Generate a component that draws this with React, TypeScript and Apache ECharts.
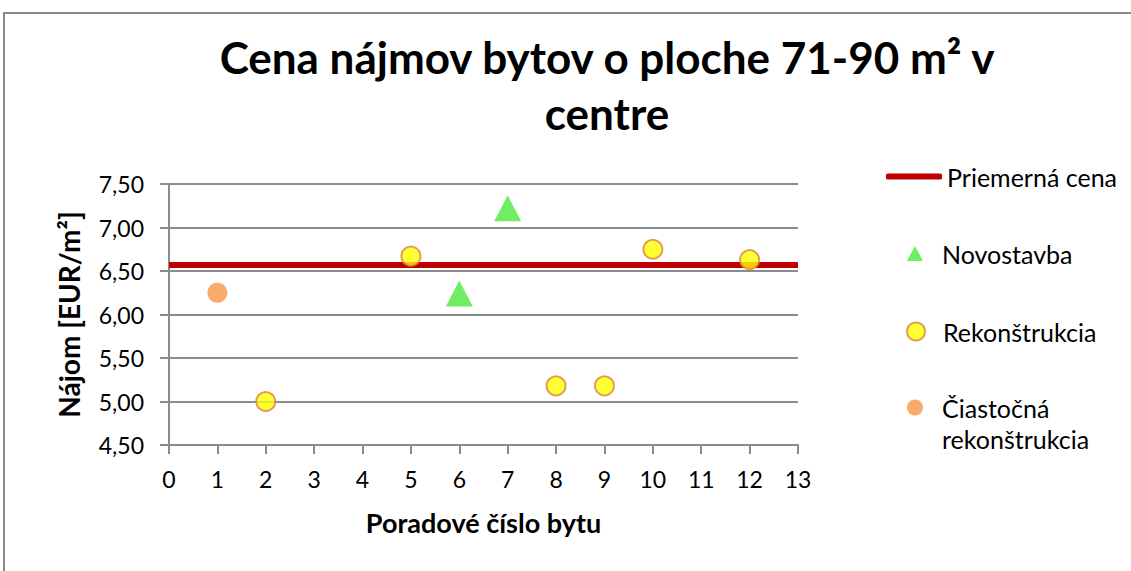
import React, { useEffect, useRef } from "react";
import * as echarts from "echarts";

const titleText = "Cena nájmov bytov o ploche 71-90 m² v\ncentre";
const xName = "Poradové číslo bytu";
const yName = "Nájom [EUR/m²]";

const averageName = "Priemerná cena";
const averageValue = 6.57;
const averageX = [0, 13];

const newName = "Novostavba";
const newX = [6, 7];
const newY = [6.24, 7.22];

const renoName = "Rekonštrukcia";
const renoX = [2, 5, 8, 9, 10, 12];
const renoY = [5.0, 6.67, 5.18, 5.18, 6.75, 6.63];

const partName = "Čiastočná rekonštrukcia";
const partX = [1];
const partY = [6.25];

const FONT = "Lato, 'Open Sans', sans-serif";

export default function App() {
  const ref = useRef<HTMLDivElement>(null);
  useEffect(() => {
    if (!ref.current) return;
    const chart = echarts.init(ref.current, undefined, { renderer: "svg" });
    const gridColor = "#8c8c8c";
    const legendBase = {
      orient: "vertical",
      itemGap: 0,
      textStyle: { fontFamily: FONT, fontSize: 25, color: "#000" },
      selectedMode: false,
    };
    chart.setOption({
      animation: false,
      backgroundColor: "#fff",
      title: {
        text: titleText,
        left: 602,
        top: 24,
        textAlign: "center",
        textStyle: {
          fontFamily: FONT,
          fontWeight: "bold",
          fontSize: 44,
          lineHeight: 56,
          color: "#000",
        },
      },
      graphic: [
        {
          type: "rect",
          shape: { x: 4, y: 13, width: 1200, height: 700 },
          style: { fill: "none", stroke: "#8a8a8a", lineWidth: 2 },
          silent: true,
        },
        {
          type: "text",
          left: 942,
          top: 426,
          style: {
            text: "rekonštrukcia",
            font: `25px ${FONT}`,
            fill: "#000",
          },
        },
      ],
      legend: [
        {
          ...legendBase,
          left: 881,
          top: 159,
          itemWidth: 56,
          itemHeight: 6,
          icon: "roundRect",
          data: [averageName],
        },
        {
          ...legendBase,
          left: 902,
          top: 236,
          itemWidth: 16,
          itemHeight: 15,
          textStyle: { ...legendBase.textStyle, padding: [0, 0, 0, 14] },
          data: [newName],
        },
        {
          ...legendBase,
          left: 901,
          top: 314,
          itemWidth: 18,
          itemHeight: 18,
          textStyle: { ...legendBase.textStyle, padding: [0, 0, 0, 13] },
          data: [renoName],
        },
        {
          ...legendBase,
          left: 902,
          top: 390,
          itemWidth: 16,
          itemHeight: 16,
          formatter: () => "Čiastočná",
          textStyle: { ...legendBase.textStyle, padding: [0, 0, 0, 14] },
          data: [partName],
        },
      ],
      grid: { left: 169, right: 333, top: 184, bottom: 126, containLabel: false },
      xAxis: {
        type: "value",
        min: 0,
        max: 13,
        interval: 1,
        name: xName,
        nameLocation: "middle",
        nameGap: 64,
        nameTextStyle: { fontFamily: FONT, fontWeight: "bold", fontSize: 27, color: "#000" },
        axisLine: { show: true, onZero: false, lineStyle: { color: gridColor, width: 2 } },
        axisTick: { show: true, length: 9, lineStyle: { color: gridColor, width: 2 } },
        axisLabel: { fontFamily: FONT, fontSize: 23, color: "#000", margin: 22 },
        splitLine: { show: false },
      },
      yAxis: {
        type: "value",
        min: 4.5,
        max: 7.5,
        interval: 0.5,
        name: yName,
        nameLocation: "middle",
        nameGap: 86,
        nameRotate: 90,
        nameTextStyle: { fontFamily: FONT, fontWeight: "bold", fontSize: 28, color: "#000" },
        axisLine: { show: true, onZero: false, lineStyle: { color: gridColor, width: 2 } },
        axisTick: { show: true, length: 9, lineStyle: { color: gridColor, width: 2 } },
        axisLabel: {
          fontFamily: FONT,
          fontSize: 23,
          color: "#000",
          margin: 25,
          formatter: (v: number) => v.toFixed(2).replace(".", ","),
        },
        splitLine: { show: true, lineStyle: { color: gridColor, width: 2 } },
      },
      series: [
        {
          name: averageName,
          type: "line",
          data: averageX.map((x) => [x, averageValue]),
          showSymbol: false,
          symbol: "none",
          lineStyle: { color: "#C00000", width: 6 },
          itemStyle: { color: "#C00000" },
          z: 2,
        },
        {
          name: newName,
          type: "scatter",
          symbol: "triangle",
          symbolSize: [27, 26],
          data: newX.map((x, i) => [x, newY[i]]),
          itemStyle: { color: "#4DE83C" },
          z: 3,
        },
        {
          name: renoName,
          type: "scatter",
          symbol: "circle",
          symbolSize: 19,
          data: renoX.map((x, i) => [x, renoY[i]]),
          itemStyle: { color: "#FFFF00", borderColor: "#DA8640", borderWidth: 2 },
          z: 3,
        },
        {
          name: partName,
          type: "scatter",
          symbol: "circle",
          symbolSize: 20,
          data: partX.map((x, i) => [x, partY[i]]),
          itemStyle: { color: "#F79646" },
          z: 3,
        },
      ],
    });
    return () => chart.dispose();
  }, []);
  return (
    <div
      ref={ref}
      style={{ position: "fixed", left: 0, top: 0, width: 1131, height: 571 }}
    />
  );
}
